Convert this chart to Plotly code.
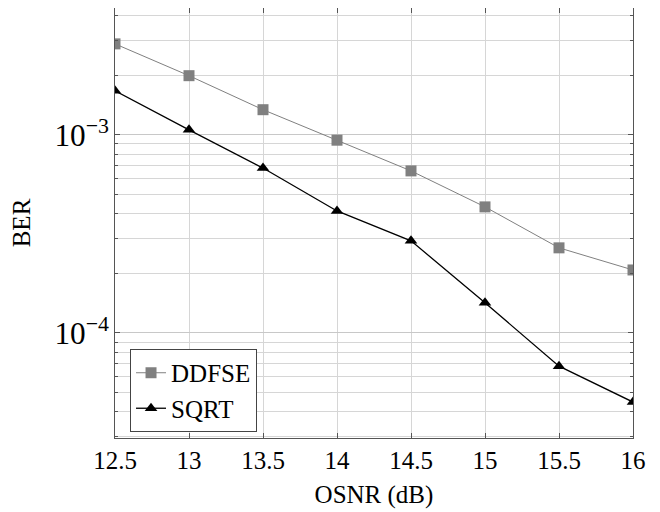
import plotly.graph_objects as go
import math

osnr = [12.5, 13, 13.5, 14, 14.5, 15, 15.5, 16]
ber_ddfse = [2.88e-3, 1.99e-3, 1.34e-3, 9.4e-4, 6.58e-4, 4.33e-4, 2.69e-4, 2.08e-4]
ber_sqrt = [1.67e-3, 1.06e-3, 6.8e-4, 4.13e-4, 2.92e-4, 1.42e-4, 6.8e-5, 4.48e-5]
x_ticks = [12.5, 13, 13.5, 14, 14.5, 15, 15.5, 16]
x_tick_labels = ["12.5", "13", "13.5", "14", "14.5", "15", "15.5", "16"]

FONT = "Liberation Serif"
FS = 25

fig = go.Figure()
fig.add_trace(go.Scatter(
    x=osnr, y=ber_ddfse, name="DDFSE", mode="lines+markers",
    line=dict(color="#808080", width=1),
    marker=dict(symbol="square", size=11, color="#808080"),
))
fig.add_trace(go.Scatter(
    x=osnr, y=ber_sqrt, name="SQRT", mode="lines+markers",
    line=dict(color="black", width=1.3),
    marker=dict(symbol="triangle-up", size=11, color="black"),
))

# page body has an 8px default margin, so the figure is offset by 8px
fig.update_layout(
    width=652, height=504,
    margin=dict(l=107, r=27, t=0, b=74),
    paper_bgcolor="white", plot_bgcolor="white",
    font=dict(family=FONT, size=FS, color="black"),
    showlegend=True,
    legend=dict(
        x=0.029, y=0.207, xanchor="left", yanchor="top",
        bgcolor="white", bordercolor="#444444", borderwidth=1,
        font=dict(family=FONT, size=FS, color="black"),
        itemwidth=30, tracegroupgap=0,
    ),
)
fig.update_xaxes(
    range=[12.5, 16], tickvals=x_ticks, ticktext=x_tick_labels,
    showgrid=True, gridcolor="#d6d6d6", gridwidth=1,
    ticks="inside", ticklen=5, tickcolor="#555555",
    showline=True, linecolor="#555555", linewidth=1, mirror="ticks",
    zeroline=False, automargin=False,
    title=dict(text="OSNR (dB)", font=dict(family=FONT, size=FS, color="black"), standoff=12),
    tickfont=dict(family=FONT, size=FS, color="black"),
)
fig.update_yaxes(
    type="log", range=[math.log10(2.95e-5), math.log10(4.37e-3)],
    dtick=1, exponentformat="power",
    showgrid=True, gridcolor="#c8c8c8", gridwidth=1,
    ticks="inside", ticklen=5, tickcolor="#555555",
    minor=dict(dtick="D1", showgrid=True, gridcolor="#d6d6d6", gridwidth=1,
               ticks="inside", ticklen=3, tickcolor="#555555"),
    showline=True, linecolor="#555555", linewidth=1, mirror="ticks",
    zeroline=False, automargin=False,
    title=dict(text="BER", font=dict(family=FONT, size=FS, color="black"), standoff=16),
    tickfont=dict(family=FONT, size=FS, color="black"),
)

fig.write_html("out.html")
